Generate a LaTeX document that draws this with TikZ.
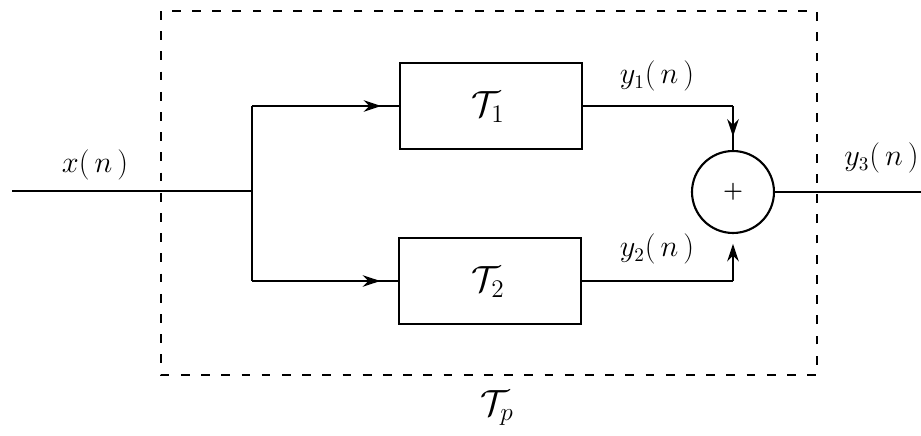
\documentclass[tikz,border=0pt]{standalone}
\usetikzlibrary{arrows.meta,decorations.markings}
\begin{document}
\begin{tikzpicture}[x=0.02cm,y=-0.02cm,
  sig/.style={line width=1.5pt},
  blk/.style={draw,line width=1.3pt,minimum width=3.64cm,minimum height=1.72cm,inner sep=0pt},
  tip/.style={-{Stealth[length=10pt,width=6.5pt]}},
  midtip/.style={postaction={decorate},decoration={markings,mark=at position #1 with {\arrow{Stealth[length=10pt,width=6.5pt]}}}},
  lab/.style={font=\fontsize{16}{19}\selectfont},
  tlab/.style={font=\fontsize{20}{24}\selectfont}]
\useasboundingbox (0,0) rectangle (921,436);
% dashed enclosure
\draw[line width=1.2pt, dash pattern=on 5pt off 6.5pt] (161,11) rectangle (817,375);
% nodes
\coordinate (in) at (12,191);
\coordinate (br) at (252,191);
\coordinate (bu) at (252,106);
\coordinate (bd) at (252,281);
\node[blk] (T1) at (491,106) {};
\node[tlab] (T1l) at (488,107) {$\mathcal{T}_1$};
\node[blk] (T2) at (490,281) {};
\node[tlab] (T2l) at (488,282) {$\mathcal{T}_2$};
\node[circle,draw,line width=1.2pt,minimum size=1.64cm,inner sep=0pt] (sum) at (733,192) {};
\node[font=\fontsize{13}{15}\selectfont\bfseries,inner sep=0pt] (plus) at (sum) {+};
\coordinate (c1) at (733,106);
\coordinate (c2) at (733,281);
\coordinate (out) at (921,192);
% connectors
\draw[sig] (in) -- (br);
\draw[sig] (bu) -- (bd);
\draw[sig,midtip=0.88] (bu) -- (T1.west);
\draw[sig,midtip=0.88] (bd) -- (T2.west);
\draw[sig] (T1.east) -- (c1);
\draw[sig,midtip=0.7] (c1) -- (sum.north);
\draw[sig] (T2.east) -- (c2);
\draw[sig,tip,shorten >=5.5pt] (c2) -- (sum.south);
\draw[sig] (sum.east) -- (out);
% labels
\node[lab] (xl) at (95,165) {$x(\,n\,)$};
\node[lab] (y1) at (657,76) {$y_1(\,n\,)$};
\node[lab] (y2) at (657,249) {$y_2(\,n\,)$};
\node[lab,anchor=east,inner sep=0pt] (y3) at (919,158) {$y_3(\,n\,)$};
\node[tlab] (Tp) at (497,408) {$\mathcal{T}_p$};
\end{tikzpicture}
\end{document}
